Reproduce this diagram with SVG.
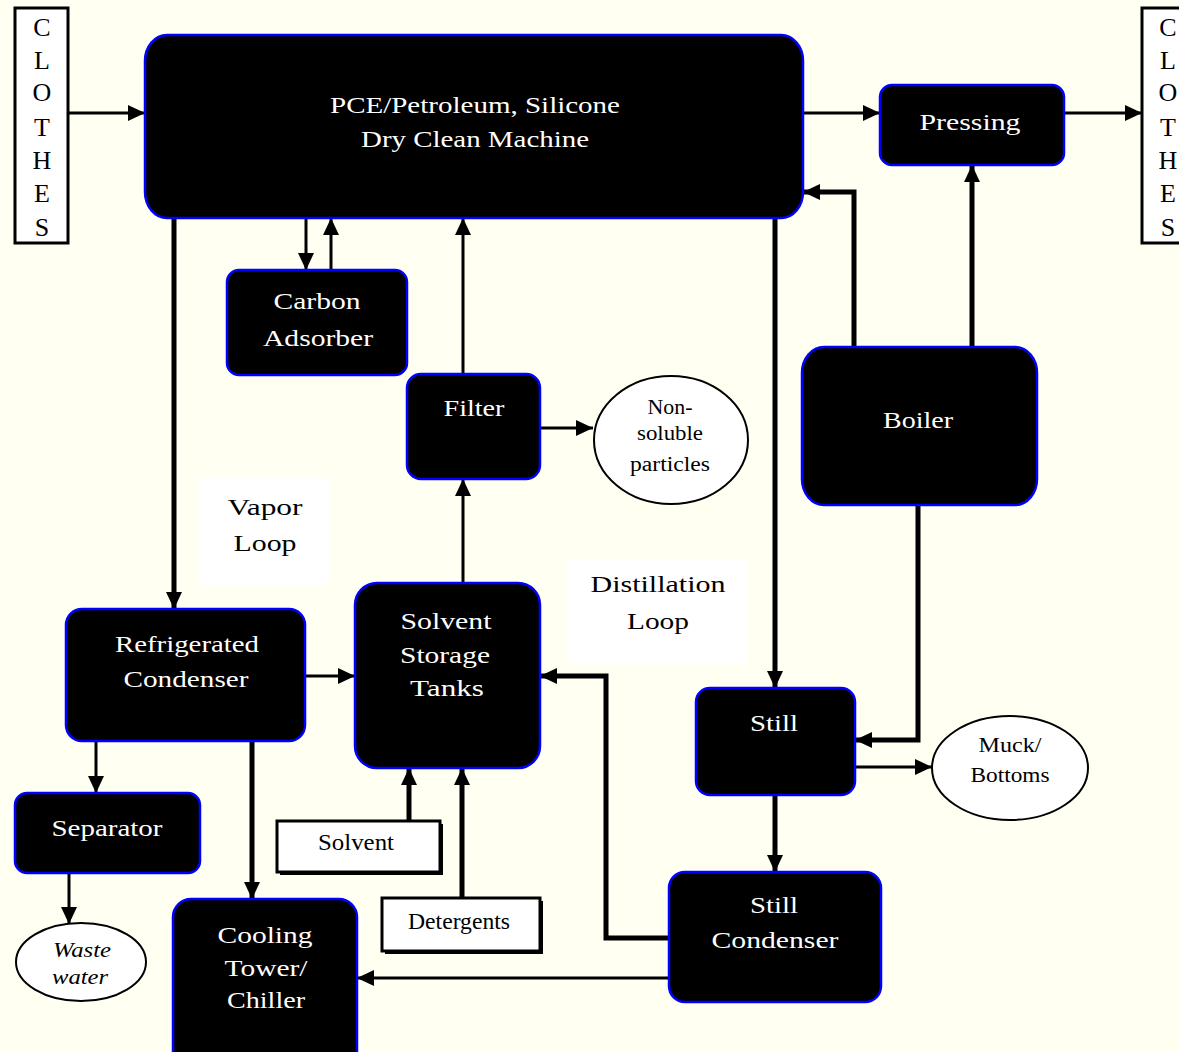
<svg xmlns="http://www.w3.org/2000/svg" width="1179" height="1052" viewBox="0 0 1179 1052">
<defs>
<style>
.node{fill:#000;stroke:#0000ff;stroke-width:2.5}
.box{fill:#fff;stroke:#000;stroke-width:3}
.oval{fill:#fff;stroke:#000;stroke-width:2}
.lbl{fill:#fff;font-family:"Liberation Serif",serif;font-size:24px;text-anchor:middle}
.blk{fill:#000;font-family:"Liberation Serif",serif;font-size:24px;text-anchor:middle}
.sm{fill:#000;font-family:"Liberation Serif",serif;font-size:20px;text-anchor:middle}
.mono{fill:#000;font-family:"Liberation Serif",serif;font-size:26px;text-anchor:middle}
.c{fill:none;stroke:#000;stroke-width:3}
.t{fill:none;stroke:#000;stroke-width:5}
</style>
<marker id="a" markerUnits="userSpaceOnUse" markerWidth="17" markerHeight="16" refX="17" refY="8" orient="auto"><path d="M0,0 L17,8 L0,16 z" fill="#000"/></marker>
</defs>
<rect width="1179" height="1052" fill="#fffff2"/>

<g id="connectors">
<path class="c" d="M68,113 H145" marker-end="url(#a)"/>
<path class="c" d="M803,113 H880" marker-end="url(#a)"/>
<path class="c" d="M1064,113 H1142" marker-end="url(#a)"/>
<path class="t" d="M854,347 V192 H803" marker-end="url(#a)"/>
<path class="t" d="M972,347 V165" marker-end="url(#a)"/>
<path class="t" d="M918,505 V740 H855" marker-end="url(#a)"/>
<path class="t" d="M775,218 V688" marker-end="url(#a)"/>
<path class="c" d="M855,767 H932" marker-end="url(#a)"/>
<path class="t" d="M775,795 V872" marker-end="url(#a)"/>
<path class="t" d="M669,938 H606 V676 H540" marker-end="url(#a)"/>
<path class="c" d="M669,978 H357" marker-end="url(#a)"/>
<path class="t" d="M174,218 V609" marker-end="url(#a)"/>
<path class="c" d="M306,218 V270" marker-end="url(#a)"/>
<path class="c" d="M331,270 V218" marker-end="url(#a)"/>
<path class="c" d="M463,374 V218" marker-end="url(#a)"/>
<path class="c" d="M540,428 H593" marker-end="url(#a)"/>
<path class="c" d="M463,583 V479" marker-end="url(#a)"/>
<path class="c" d="M305,676 H355" marker-end="url(#a)"/>
<path class="c" d="M96,741 V793" marker-end="url(#a)"/>
<path class="t" d="M252,741 V899" marker-end="url(#a)"/>
<path class="c" d="M69,873 V924" marker-end="url(#a)"/>
<path class="t" d="M409,821 V768" marker-end="url(#a)"/>
<path class="t" d="M462,898 V768" marker-end="url(#a)"/>
</g>

<g id="clothes-in">
<rect class="box" x="15" y="8" width="53" height="235"/>
<text class="mono" x="42" y="36">C</text>
<text class="mono" x="42" y="69">L</text>
<text class="mono" x="42" y="101">O</text>
<text class="mono" x="42" y="136">T</text>
<text class="mono" x="42" y="169">H</text>
<text class="mono" x="42" y="202">E</text>
<text class="mono" x="42" y="236">S</text>
</g>
<g id="clothes-out">
<rect class="box" x="1142" y="8" width="60" height="235"/>
<text class="mono" x="1168" y="36">C</text>
<text class="mono" x="1168" y="69">L</text>
<text class="mono" x="1168" y="101">O</text>
<text class="mono" x="1168" y="136">T</text>
<text class="mono" x="1168" y="169">H</text>
<text class="mono" x="1168" y="202">E</text>
<text class="mono" x="1168" y="236">S</text>
</g>

<g id="machine">
<rect class="node" x="145" y="35" width="658" height="183" rx="22" ry="26"/>
<text class="lbl" x="475" y="113" textLength="290" lengthAdjust="spacingAndGlyphs">PCE/Petroleum, Silicone</text>
<text class="lbl" x="475" y="147" textLength="228" lengthAdjust="spacingAndGlyphs">Dry Clean Machine</text>
</g>
<g id="pressing">
<rect class="node" x="880" y="85" width="184" height="80" rx="12"/>
<text class="lbl" x="970" y="130" textLength="101" lengthAdjust="spacingAndGlyphs">Pressing</text>
</g>
<g id="carbon">
<rect class="node" x="227" y="270" width="180" height="105" rx="12"/>
<text class="lbl" x="317" y="309" textLength="87" lengthAdjust="spacingAndGlyphs">Carbon</text>
<text class="lbl" x="318" y="346" textLength="110" lengthAdjust="spacingAndGlyphs">Adsorber</text>
</g>
<g id="filter">
<rect class="node" x="407" y="374" width="133" height="105" rx="14"/>
<text class="lbl" x="474" y="416" textLength="61" lengthAdjust="spacingAndGlyphs">Filter</text>
</g>
<g id="nonsoluble">
<ellipse class="oval" cx="671" cy="440" rx="77" ry="64"/>
<text class="sm" x="670" y="414" textLength="45" lengthAdjust="spacingAndGlyphs">Non-</text>
<text class="sm" x="670" y="440" textLength="66" lengthAdjust="spacingAndGlyphs">soluble</text>
<text class="sm" x="670" y="471" textLength="80" lengthAdjust="spacingAndGlyphs">particles</text>
</g>
<g id="boiler">
<rect class="node" x="802" y="347" width="235" height="158" rx="22" ry="26"/>
<text class="lbl" x="918" y="428" textLength="70" lengthAdjust="spacingAndGlyphs">Boiler</text>
</g>
<g id="vapor-loop">
<rect x="200" y="478" width="130" height="107" fill="#fff"/>
<text class="blk" x="265" y="515" textLength="75" lengthAdjust="spacingAndGlyphs">Vapor</text>
<text class="blk" x="265" y="551" textLength="63" lengthAdjust="spacingAndGlyphs">Loop</text>
</g>
<g id="distillation-loop">
<rect x="568" y="560" width="180" height="103" fill="#fff"/>
<text class="blk" x="658" y="592" textLength="135" lengthAdjust="spacingAndGlyphs">Distillation</text>
<text class="blk" x="658" y="629" textLength="62" lengthAdjust="spacingAndGlyphs">Loop</text>
</g>
<g id="refrigerated-condenser">
<rect class="node" x="66" y="609" width="239" height="132" rx="16"/>
<text class="lbl" x="187" y="652" textLength="144" lengthAdjust="spacingAndGlyphs">Refrigerated</text>
<text class="lbl" x="186" y="687" textLength="125" lengthAdjust="spacingAndGlyphs">Condenser</text>
</g>
<g id="storage">
<rect class="node" x="355" y="583" width="185" height="185" rx="22"/>
<text class="lbl" x="446" y="629" textLength="91" lengthAdjust="spacingAndGlyphs">Solvent</text>
<text class="lbl" x="445" y="663" textLength="90" lengthAdjust="spacingAndGlyphs">Storage</text>
<text class="lbl" x="447" y="696" textLength="74" lengthAdjust="spacingAndGlyphs">Tanks</text>
</g>
<g id="still">
<rect class="node" x="696" y="688" width="159" height="107" rx="14"/>
<text class="lbl" x="774" y="731" textLength="48" lengthAdjust="spacingAndGlyphs">Still</text>
</g>
<g id="muck">
<ellipse class="oval" cx="1010" cy="768" rx="78" ry="52"/>
<text class="sm" x="1010" y="752" textLength="63" lengthAdjust="spacingAndGlyphs">Muck/</text>
<text class="sm" x="1010" y="782" textLength="79" lengthAdjust="spacingAndGlyphs">Bottoms</text>
</g>
<g id="separator">
<rect class="node" x="15" y="793" width="185" height="80" rx="12"/>
<text class="lbl" x="107" y="836" textLength="111" lengthAdjust="spacingAndGlyphs">Separator</text>
</g>
<g id="waste-water">
<ellipse class="oval" cx="81" cy="962" rx="65" ry="39"/>
<text class="sm" x="82" y="957" font-style="italic" textLength="58" lengthAdjust="spacingAndGlyphs">Waste</text>
<text class="sm" x="80" y="984" font-style="italic" textLength="56" lengthAdjust="spacingAndGlyphs">water</text>
</g>
<g id="solvent">
<rect x="280" y="824" width="163" height="51" fill="#000"/>
<rect class="box" x="277" y="821" width="163" height="51"/>
<text class="blk" x="356" y="850" font-size="22" textLength="76" lengthAdjust="spacingAndGlyphs">Solvent</text>
</g>
<g id="detergents">
<rect x="385" y="901" width="158" height="53" fill="#000"/>
<rect class="box" x="382" y="898" width="158" height="53"/>
<text class="blk" x="459" y="929" font-size="22" textLength="102" lengthAdjust="spacingAndGlyphs">Detergents</text>
</g>
<g id="cooling-tower">
<rect class="node" x="173" y="899" width="184" height="170" rx="18"/>
<text class="lbl" x="265" y="943" textLength="95" lengthAdjust="spacingAndGlyphs">Cooling</text>
<text class="lbl" x="266" y="976" textLength="83" lengthAdjust="spacingAndGlyphs">Tower/</text>
<text class="lbl" x="266" y="1008" textLength="78" lengthAdjust="spacingAndGlyphs">Chiller</text>
</g>
<g id="still-condenser">
<rect class="node" x="669" y="872" width="212" height="130" rx="16"/>
<text class="lbl" x="774" y="913" textLength="48" lengthAdjust="spacingAndGlyphs">Still</text>
<text class="lbl" x="775" y="948" textLength="127" lengthAdjust="spacingAndGlyphs">Condenser</text>
</g>
</svg>
